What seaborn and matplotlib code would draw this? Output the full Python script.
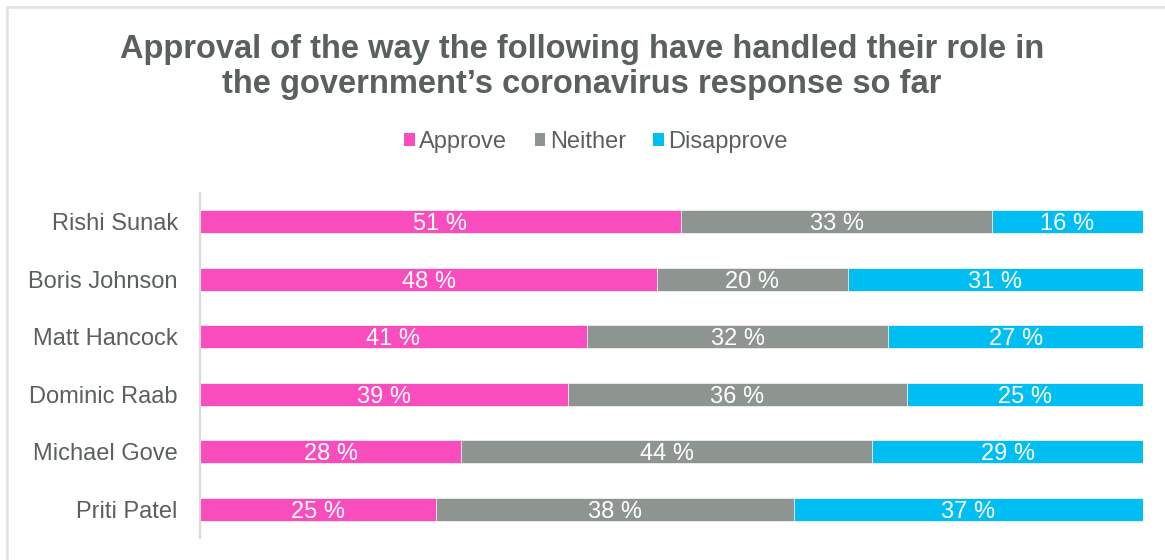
import numpy as np
import pandas as pd
import matplotlib
matplotlib.use("Agg")
import matplotlib.pyplot as plt
from matplotlib.patches import Patch
from matplotlib.lines import Line2D
import seaborn as sns

# Survey results (percent), one entry per minister
names = ["Rishi Sunak", "Boris Johnson", "Matt Hancock", "Dominic Raab", "Michael Gove", "Priti Patel"]
approve = [51, 48, 41, 39, 28, 25]
neither = [33, 20, 32, 36, 44, 38]
disapprove = [16, 31, 27, 25, 29, 37]

series_names = ["Approve", "Neither", "Disapprove"]
series_colors = ["#F94DBE", "#8E9490", "#00BEF2"]
text_color = "#5A605D"

sns.set_style("white")
plt.rcParams["font.family"] = ["Liberation Sans", "DejaVu Sans"]

# 100% stacked: each row normalised to its own total
a = np.array(approve, float)
n = np.array(neither, float)
d = np.array(disapprove, float)
tot = a + n + d
df = pd.DataFrame({
    "name": names,
    "c1": a / tot,
    "c2": (a + n) / tot,
    "c3": (a + n + d) / tot,
})

fig = plt.figure(figsize=(11.65, 5.6), dpi=100)
ax = fig.add_axes([200 / 1165, 22 / 560, 943 / 1165, 345 / 560])

# paint cumulative bars back to front so each visible segment is one series
for col, color in zip(["c3", "c2", "c1"], series_colors[::-1]):
    sns.barplot(data=df, x=col, y="name", orient="y", color=color, saturation=1,
                width=0.4, errorbar=None, edgecolor="#f0f0f0", linewidth=0.6, ax=ax)

# value labels centred in each segment
lefts = [np.zeros(len(names)), a / tot, (a + n) / tot]
widths = [a / tot, n / tot, d / tot]
raw = [approve, neither, disapprove]
for left, w, vals in zip(lefts, widths, raw):
    for i, (l, ww, v) in enumerate(zip(left, w, vals)):
        ax.text(l + ww / 2, i, f"{v} %", ha="center", va="center_baseline",
                color="white", fontsize=17)

ax.set_xlim(0, 1)
ax.set_ylim(len(names) - 0.5, -0.5)
ax.set_xlabel("")
ax.set_ylabel("")
ax.set_xticks([])
ax.tick_params(axis="y", length=0, pad=16, labelsize=17, labelcolor=text_color)
for s in ["top", "right", "bottom"]:
    ax.spines[s].set_visible(False)
ax.spines["left"].set_color("#D9D9D9")
ax.spines["left"].set_linewidth(1.5)

fig.text(582 / 1165, 1 - 67 / 560,
         "Approval of the way the following have handled their role in\n"
         "the government\u2019s coronavirus response so far",
         ha="center", va="center", fontsize=23.5, fontweight="bold",
         color=text_color, linespacing=1.2)

handles = [Patch(facecolor=c, edgecolor="none", label=l)
           for c, l in zip(series_colors, series_names)]
fig.legend(handles=handles, loc="center", bbox_to_anchor=(596 / 1165, 1 - 142 / 560),
           ncol=3, frameon=False, fontsize=17, handlelength=0.45, handleheight=0.5,
           handletextpad=0.2, columnspacing=1.15, labelcolor=text_color)

# outer chart frame (top and left edges)
frame_color = "#E3E3E3"
fig.add_artist(Line2D([7 / 1165, 1.02], [1 - 7 / 560, 1 - 7 / 560],
                      transform=fig.transFigure, color=frame_color, lw=2))
fig.add_artist(Line2D([7 / 1165, 7 / 1165], [1 - 7 / 560, -0.02],
                      transform=fig.transFigure, color=frame_color, lw=2))

fig.savefig("out.png", dpi=100, facecolor="white")
